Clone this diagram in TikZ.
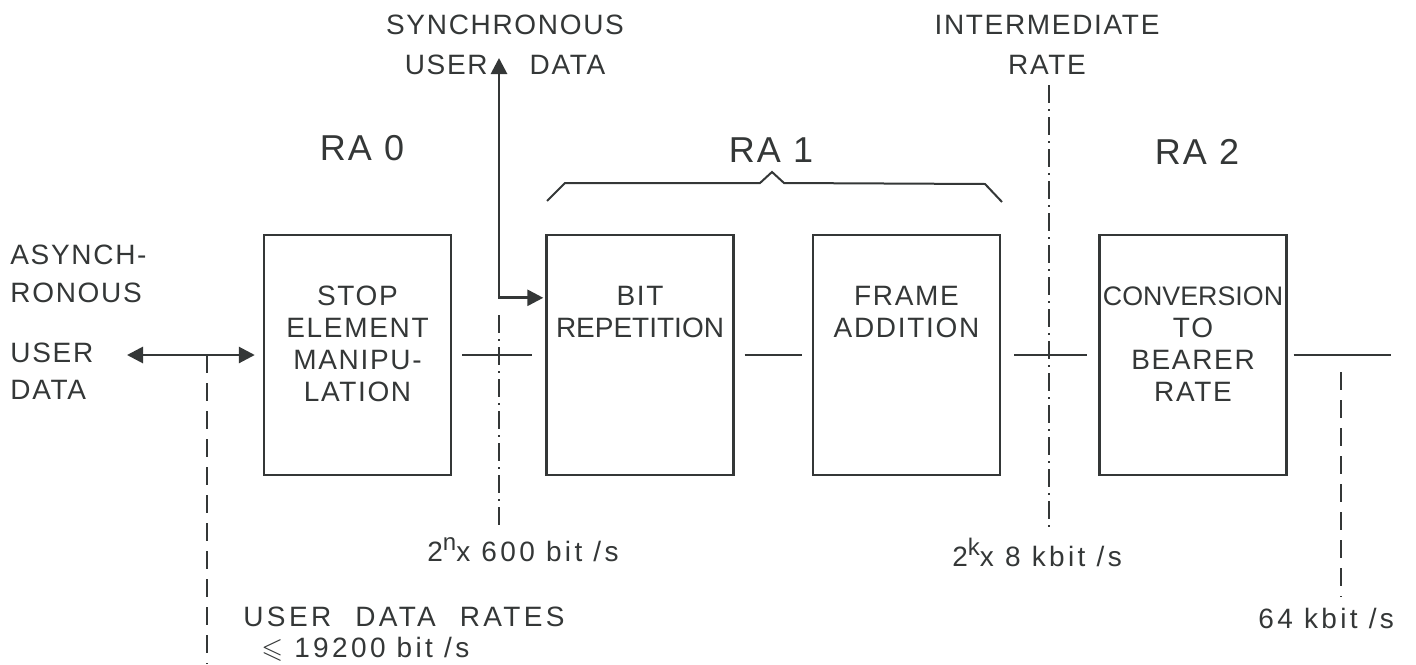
\documentclass[tikz,border=0pt]{standalone}
\usepackage{fontspec}
\setmainfont{Liberation Sans}[LetterSpace=6]
\newfontfamily\tightfont{Liberation Sans}
\newfontfamily\widefont{Liberation Sans}[LetterSpace=12]
\usepackage{amssymb}
\usetikzlibrary{positioning, arrows.meta, calc}
\definecolor{ink}{HTML}{343737}
\newcommand{\expo}[1]{\raisebox{0.75ex}{\fontsize{12}{12}\selectfont #1}}

\begin{document}
\begin{tikzpicture}[x=0.5pt, y=-0.5pt, font=\fontsize{14}{16}\selectfont, text=ink,
    blk/.style={draw=ink, line width=1.2pt, minimum width=93.5pt, minimum height=120pt, inner sep=0pt},
    lbl/.style={align=center, inner sep=0pt, anchor=north},
    ralbl/.style={font=\fontsize{18}{22}\selectfont, inner sep=0pt},
    link/.style={draw=ink, line width=1.4pt},
    tip/.style={link, {Triangle[length=8pt, width=8pt]}-{Triangle[length=8pt, width=8pt]}},
    dashln/.style={draw=ink, line width=1.3pt, dash pattern=on 9pt off 5pt},
    dotln/.style={draw=ink, line width=1.3pt, dash pattern=on 9pt off 3pt on 1pt off 3pt}]
  \useasboundingbox (0,0) rectangle (1416,664);

  % rate adaption blocks
  \node[blk] (stop)  at (357.5,355) {};
  \node[blk] (bit)   at (640,355) {};
  \node[blk] (frame) at (906.5,355) {};
  \node[blk] (conv)  at (1193,355) {};
  \node[lbl] (stoptxt)  at (357.5,286) {STOP\\ELEMENT\\MANIPU-\\LATION};
  \node[lbl] (bittxt)   at (640,286) {BIT\\{\tightfont REPETITION}};
  \node[lbl] (frametxt) at (906.5,286) {FRAME\\ADDITION};
  \node[lbl] (convtxt)  at (1193,286) {{\tightfont\fontsize{13.4}{16}\selectfont CONVERSION}\\TO\\BEARER\\RATE};

  % RA labels and bracket
  \node[ralbl] (ra0) at (362,148) {RA 0};
  \node[ralbl] (ra1) at (771,150) {RA 1};
  \node[ralbl] (ra2) at (1197,152) {RA 2};
  \draw[link, line width=1pt] (547,201) -- (565,183) -- (760,183) -- (772,172)
    -- (784,183) -- (985,184) -- (1002,202);

  % connections
  \coordinate (asy) at (127,355);
  \coordinate (out) at (1391,355);
  \draw[tip, shorten >=4pt] (asy) -- (stop.west);
  \draw[link, shorten <=5pt, shorten >=6.5pt] (stop) -- (bit);
  \draw[link, shorten <=5pt, shorten >=5pt] (bit) -- (frame);
  \draw[link, shorten <=6.5pt, shorten >=5.5pt] (frame) -- (conv);
  \draw[link, shorten <=3pt] (conv) -- (out);

  % synchronous user data
  \coordinate (sync) at (499,58);
  \draw[tip, shorten >=1pt] (sync) |- ($(bit.north west)+(0,64)$);

  % reference points
  \coordinate (tapa) at (207,355);
  \coordinate (tapb) at (207,664);
  \draw[dashln] (tapa) -- (tapb);
  \coordinate (syna) at (499,315);
  \coordinate (synb) at (499,527);
  \draw[dotln] (syna) -- (synb);
  \coordinate (ima) at (1049,85);
  \coordinate (imb) at (1049,530);
  \draw[dotln] (ima) -- (imb);
  \coordinate (beara) at (1341,372);
  \coordinate (bearb) at (1341,597);
  \draw[dashln] (beara) -- (bearb);

  % texts
  \node[inner sep=0pt, anchor=west, align=left, font=\fontsize{14}{19}\selectfont] (asytxt) at (10,274) {ASYNCH-\\RONOUS};
  \node[inner sep=0pt, anchor=west, align=left, font=\fontsize{14}{18.5}\selectfont] (usrtxt) at (10,371) {USER\\DATA};
  \node[inner sep=0pt, align=center, font=\fontsize{14}{20}\selectfont] (synctxt) at (505,45) {SYNCHRONOUS\\USER\hspace{21pt}DATA\hspace{-3pt}};
  \node[inner sep=0pt, align=center, font=\fontsize{14}{20}\selectfont] (imtxt) at (1047,45) {INTERMEDIATE\\RATE};
  \node[inner sep=0pt, anchor=west, font=\widefont\fontsize{14}{16}\selectfont] (rate600) at (427,550) {2\expo{n}x 600 bit /s};
  \node[inner sep=0pt, anchor=west, font=\widefont\fontsize{14}{16}\selectfont] (rate8k) at (952,552) {2\expo{k}x 8 kbit /s};
  \node[inner sep=0pt, anchor=west, font=\widefont\fontsize{14}{16}\selectfont] (rate64) at (1258,618) {64 kbit /s};
  \node[inner sep=0pt, anchor=north west, align=left, font=\widefont\fontsize{14}{15.5}\selectfont] (usrrates) at (243,607)
    {USER\hspace{12pt}DATA\hspace{12pt}RATES\\\hspace*{9pt}$\leqslant$ 19200 bit /s};
\end{tikzpicture}
\end{document}
